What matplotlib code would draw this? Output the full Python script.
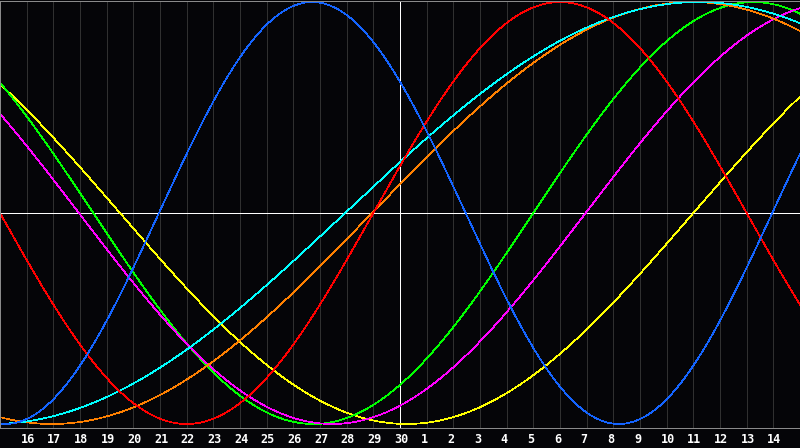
import numpy as np
import matplotlib
matplotlib.use('Agg')
from matplotlib import pyplot as plt

# days shown along the bottom (15 days either side of day 30)
day_labels = ['16', '17', '18', '19', '20', '21', '22', '23', '24', '25', '26', '27', '28', '29', '30',
              '1', '2', '3', '4', '5', '6', '7', '8', '9', '10', '11', '12', '13', '14']

# cycle lengths (days) and where each curve crosses zero going up (days from left edge)
periods = [43, 33, 38, 48, 53, 28, 23]
zero_up = [26.0, 20.0, 21.96, 13.95, 12.94, 14.0, 5.96]
colors = ['#ffff00', '#00ff00', '#ff00ff', '#ff8000', '#00ffff', '#ff0000', '#1464ff']

ndays = 30
bg = '#050508'

fig = plt.figure(figsize=(8, 4.48), dpi=100, facecolor=bg)
ax = fig.add_axes([0, 20 / 448, 1, 427 / 448])
ax.set_facecolor(bg)

# day grid
for k in range(1, ndays):
    c = 'white' if k == ndays // 2 else '#303030'
    ax.axvline(k, color=c, lw=0.5, antialiased=False, zorder=1)
ax.axhline(0, color='white', lw=0.5, antialiased=False, zorder=1)

t = np.linspace(0, ndays, 1600)
for p, z, c in zip(periods, zero_up, colors):
    ax.plot(t, np.sin(2 * np.pi * (t - z) / p), color=c, lw=0.5, antialiased=False, zorder=2)

ax.set_xlim(0, ndays)
ax.set_ylim(-1.019, 1.005)
ax.set_xticks([])
ax.set_yticks([])
for s in ['left', 'top', 'bottom']:
    ax.spines[s].set_color('#8a8a8a')
    ax.spines[s].set_linewidth(0.5)
    ax.spines[s].set_antialiased(False)
ax.spines['right'].set_visible(False)

px = ndays / 800
for k, lab in enumerate(day_labels, start=1):
    ax.text(k - 6 * px, -15 / 427, lab, transform=ax.get_xaxis_transform(),
            color='white', fontsize=8.5, fontweight='bold', family='DejaVu Sans Mono',
            ha='left', va='baseline')

fig.savefig('out.png', dpi=100, facecolor=bg)
